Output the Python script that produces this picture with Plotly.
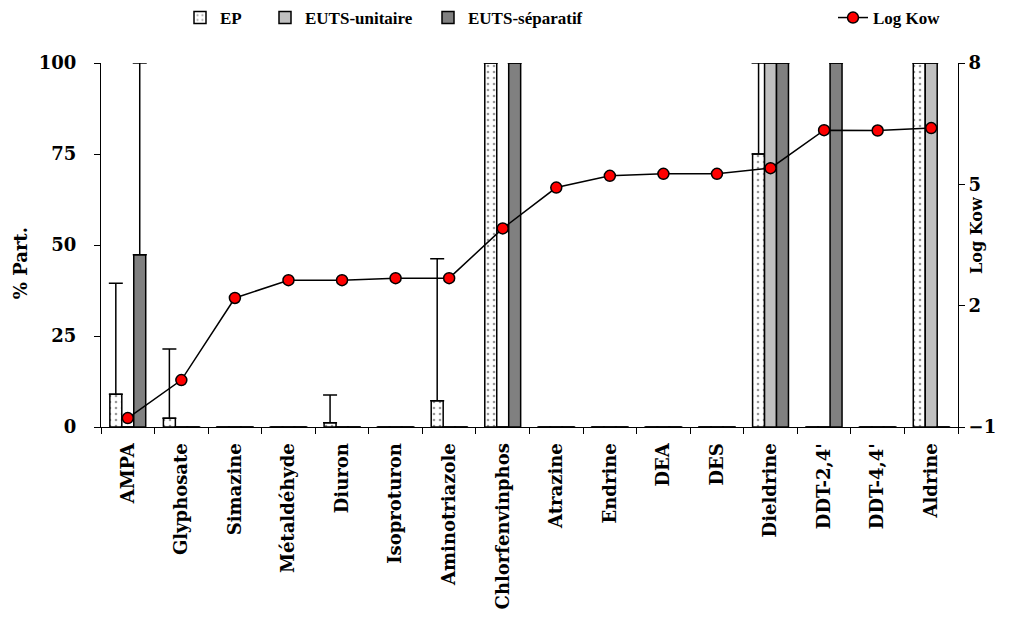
import plotly.graph_objects as go

compounds = ['AMPA', 'Glyphosate', 'Simazine', 'Métaldéhyde', 'Diuron', 'Isoproturon',
             'Aminotriazole', 'Chlorfenvinphos', 'Atrazine', 'Endrine', 'DEA', 'DES',
             'Dieldrine', "DDT-2,4'", "DDT-4,4'", 'Aldrine']

ep = [9, 2.4, 0, 0, 1.2, 0, 7.2, 100, 0, 0, 0, 0, 75, 0, 0, 100]
ep_err = [30.5, 19, 0, 0, 7.6, 0, 39, 0, 0, 0, 0, 0, 25, 0, 0, 0]
unitaire = [0, 0, 0, 0, 0, 0, 0, 0, 0, 0, 0, 0, 100, 0, 0, 100]
unitaire_err = [0] * 16
separatif = [47.3, 0, 0, 0, 0, 0, 0, 100, 0, 0, 0, 0, 100, 100, 0, 0]
separatif_err = [52.7, 0, 0, 0, 0, 0, 0, 0, 0, 0, 0, 0, 0, 0, 0, 0]
log_kow = [-0.78, 0.16, 2.19, 2.63, 2.63, 2.68, 2.68, 3.91, 4.92, 5.21, 5.26, 5.26,
           5.40, 6.34, 6.33, 6.39]

serif = 'DejaVu Serif'
legend_font = dict(family='Liberation Serif', size=17, color='black', weight='bold')

# page body has an 8px margin, so the figure is sized/placed to compensate
W, H = 1012, 614
L, R, T, B = 93, 62, 55, 195
pw = W - L - R
ph = H - T - B


def err(vals):
    return dict(type='data', array=vals, arrayminus=[0] * len(vals), symmetric=False,
                color='black', thickness=1.5, width=7)


def legend_at(px_text):
    # one-item legend whose text starts near px_text (page pixels)
    return dict(orientation='h', x=(px_text - 8 - 40 - L) / pw, xanchor='left',
                y=1 + (T - 10) / ph, yanchor='middle', font=legend_font,
                itemwidth=30, bgcolor='rgba(0,0,0,0)')


fig = go.Figure()
fig.add_trace(go.Bar(
    x=compounds, y=ep, name='EP', error_y=err(ep_err), cliponaxis=False, legend='legend',
    marker=dict(color='white', line=dict(color='black', width=1.5),
                pattern=dict(shape='.', fgcolor='#333333', bgcolor='white', size=6, solidity=0.15)),
))
fig.add_trace(go.Bar(
    x=compounds, y=unitaire, name='EUTS-unitaire', error_y=err(unitaire_err), cliponaxis=False,
    legend='legend2', marker=dict(color='#c0c0c0', line=dict(color='black', width=1.5)),
))
fig.add_trace(go.Bar(
    x=compounds, y=separatif, name='EUTS-séparatif', error_y=err(separatif_err), cliponaxis=False,
    legend='legend3', marker=dict(color='#808080', line=dict(color='black', width=1.5)),
))
fig.add_trace(go.Scatter(
    x=compounds, y=log_kow, name='Log Kow', yaxis='y2', mode='lines+markers',
    line=dict(color='black', width=1.5), legend='legend4', cliponaxis=False,
    marker=dict(color='red', size=11, line=dict(color='black', width=1.5)),
))

fig.update_layout(
    width=W, height=H,
    margin=dict(l=L, r=R, t=T, b=B, autoexpand=False),
    plot_bgcolor='white', paper_bgcolor='white',
    font=dict(family=serif, size=17, color='black', weight='bold'),
    barmode='group', bargap=0.33, bargroupgap=0,
    showlegend=True,
    legend=legend_at(220),
    legend2=legend_at(305),
    legend3=legend_at(468),
    legend4=legend_at(873),
    xaxis=dict(type='category', range=[-0.5, 15.5], tickangle=-90, tickson='boundaries',
               ticks='outside', ticklen=6, tickcolor='black', showline=True,
               linecolor='black', linewidth=1, showgrid=False, ticklabelstandoff=8,
               tickfont=dict(family=serif, size=18, weight='bold')),
    yaxis=dict(range=[0, 100], tickvals=[0, 25, 50, 75, 100], ticks='outside', ticklen=6,
               tickcolor='black', showline=True, linecolor='black', linewidth=1,
               showgrid=False, zeroline=False, ticklabelstandoff=14,
               tickfont=dict(family=serif, size=18, weight='bold')),
    yaxis2=dict(range=[-1, 8], tickvals=[-1, 2, 5, 8], overlaying='y', side='right',
                ticks='outside', ticklen=6, tickcolor='black', showline=True,
                linecolor='black', linewidth=1, showgrid=False, zeroline=False,
                tickfont=dict(family=serif, size=18, weight='bold')),
    annotations=[
        dict(text='% Part.', xref='paper', x=0, xshift=-81, xanchor='center', yref='y', y=45,
             textangle=-90, showarrow=False, font=dict(family=serif, size=18, weight='bold')),
        dict(text='Log Kow', xref='paper', x=1, xshift=19, xanchor='center', yref='y2', y=3.75,
             textangle=-90, showarrow=False, font=dict(family=serif, size=16, weight='bold')),
    ],
)

fig.write_html('out.html')
